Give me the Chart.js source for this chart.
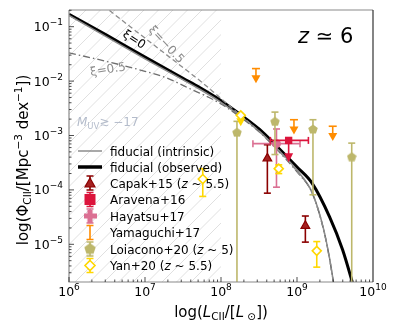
<!DOCTYPE html>
<html>
<head>
<meta charset="utf-8">
<script src="https://cdn.jsdelivr.net/npm/chart.js@4.4.1/dist/chart.umd.min.js"></script>
<style>
  html, body { margin: 0; padding: 0; background: #fff; }
  canvas { display: block; }
</style>
</head>
<body>
<canvas id="chart" width="399" height="332"></canvas>
<script>
// ---- model curves (log10 L_CII, log10 Phi) ----
const obsLogL = [6.0, 6.5, 7.0, 7.5, 7.72, 8.0, 8.25, 8.5, 8.75, 9.0, 9.2, 9.43, 9.6, 9.76];
const obsLogPhi = [-0.77, -1.16, -1.56, -1.95, -2.12, -2.36, -2.61, -2.88, -3.22, -3.58, -3.88, -4.5, -5.1, -5.85];

const intrLogL = [6.0, 7.0, 7.72, 8.0, 8.25, 8.5, 8.75, 9.0, 9.2, 9.35, 9.43, 9.5];
const intrLogPhi = [-0.79, -1.59, -2.15, -2.39, -2.64, -2.92, -3.26, -3.64, -4.05, -4.72, -5.27, -5.88];

const xiNegLogL = [6.45, 6.75, 7.0, 7.25, 7.5, 7.72, 7.9, 8.1, 8.3, 8.5, 8.75, 9.0, 9.2, 9.35, 9.43, 9.5];
const xiNegLogPhi = [-0.61, -0.94, -1.21, -1.48, -1.75, -1.99, -2.2, -2.44, -2.68, -2.92, -3.27, -3.66, -4.06, -4.73, -5.28, -5.88];

const xiPosLogL = [6.0, 6.5, 7.0, 7.3, 7.59, 7.72, 8.0, 8.25, 8.5, 8.75, 9.0, 9.2, 9.35, 9.43, 9.5];
const xiPosLogPhi = [-1.48, -1.64, -1.82, -1.95, -2.14, -2.22, -2.42, -2.66, -2.93, -3.28, -3.67, -4.06, -4.73, -5.28, -5.88];

// ---- observations ----
const capakLogL = [8.61, 9.11];
const capakLogPhi = [-3.42, -4.66];
const capakLogPhiHi = [-3.17, -4.48];
const capakLogPhiLo = [-4.06, -4.96];

const aravenaLogL = [8.89];
const aravenaLogPhi = [-3.09];
const aravenaLogLLo = [8.65];
const aravenaLogLHi = [9.15];
const aravenaLimitLogPhi = [-3.49];

const hayatsuLogL = [8.73];
const hayatsuLogPhi = [-3.15];
const hayatsuLogPhiHi = [-2.88];
const hayatsuLogPhiLo = [-3.95];
const hayatsuLogLLo = [8.42];
const hayatsuLogLHi = [9.04];

const yamaguchiLogL = [8.46, 8.96, 9.47];
const yamaguchiLogPhiMax = [-1.77, -2.71, -2.83];

const loiaconoLogL = [8.21, 8.71, 9.21, 9.72];
const loiaconoLogPhi = [-2.94, -2.74, -2.88, -3.39];
const loiaconoLogPhiHi = [-2.74, -2.57, -2.71, -3.14];
const loiaconoLogPhiLo = [-7, -3.35, -4.09, -7];

const yanLogL = [7.76, 8.26, 8.76, 9.26];
const yanLogPhi = [-3.80, -2.63, -3.61, -5.12];
const yanLogPhiHi = [-3.61, -2.63, -3.54, -4.95];
const yanLogPhiLo = [-4.12, -2.63, -3.70, -5.42];
const yanIsLimit = [false, true, false, false];

// ---- axes ----
const xTickExp = [6, 7, 8, 9, 10];
const yTickExp = [-5, -4, -3, -2, -1];
const xMinExp = 6, xMaxExp = 10;
const yMinExp = -5.693, yMaxExp = -0.693;
const hatchMaxExp = 8.0;

const colors = {
  capak: '#8B0000', aravena: '#DC143C', hayatsu: '#DB7093',
  yamaguchi: '#FF8C00', loiacono: '#BDB76B', yan: '#FFD700'
};

const toXY = (lx, ly) => lx.map((v, i) => ({ x: Math.pow(10, v), y: Math.pow(10, ly[i]) }));

function makeShape(kind, size, fill) {
  const c = document.createElement('canvas');
  c.width = c.height = size;
  const g = c.getContext('2d');
  const r = size / 2;
  g.beginPath();
  if (kind === 'pentagon') {
    for (let i = 0; i < 5; i++) {
      const a = -Math.PI / 2 + i * 2 * Math.PI / 5;
      g.lineTo(r + r * Math.cos(a), r + 0.5 + r * Math.sin(a));
    }
  } else {
    const t = size * 0.2;
    const pts = [[r - t, 0], [r + t, 0], [r + t, r - t], [size, r - t], [size, r + t], [r + t, r + t],
      [r + t, size], [r - t, size], [r - t, r + t], [0, r + t], [0, r - t], [r - t, r - t]];
    pts.forEach(p => g.lineTo(p[0], p[1]));
  }
  g.closePath();
  g.fillStyle = fill;
  g.fill();
  return c;
}
const pentagon = makeShape('pentagon', 10, colors.loiacono);
const pentagonBig = makeShape('pentagon', 12, colors.loiacono);
const plusBig = makeShape('plus', 13, colors.hayatsu);

// error bars drawn just before each marker dataset
const errorInfo = {
  'Capak+15': { color: colors.capak, L: capakLogL, hi: capakLogPhiHi, lo: capakLogPhiLo },
  'Aravena+16': { color: colors.aravena, L: aravenaLogL, y: aravenaLogPhi, lLo: aravenaLogLLo, lHi: aravenaLogLHi, arrowTo: aravenaLimitLogPhi },
  'Hayatsu+17': { color: colors.hayatsu, L: hayatsuLogL, y: hayatsuLogPhi, hi: hayatsuLogPhiHi, lo: hayatsuLogPhiLo, lLo: hayatsuLogLLo, lHi: hayatsuLogLHi },
  'Yamaguchi+17': { color: colors.yamaguchi, L: yamaguchiLogL, limit: yamaguchiLogPhiMax },
  'Loiacono+20': { color: colors.loiacono, L: loiaconoLogL, hi: loiaconoLogPhiHi, lo: loiaconoLogPhiLo },
  'Yan+20': { color: colors.yan, L: yanLogL, hi: yanLogPhiHi, lo: yanLogPhiLo, y: yanLogPhi, isLimit: yanIsLimit }
};

function downTriangle(ctx, x, yTip, w, h, color) {
  ctx.beginPath();
  ctx.moveTo(x - w / 2, yTip - h);
  ctx.lineTo(x + w / 2, yTip - h);
  ctx.lineTo(x, yTip);
  ctx.closePath();
  ctx.fillStyle = color;
  ctx.fill();
}

function richText(ctx, x, y, parts, align) {
  let w = 0;
  parts.forEach(p => { ctx.font = p.f; w += ctx.measureText(p.t).width; });
  let cx = align === 'center' ? x - w / 2 : (align === 'right' ? x - w : x);
  parts.forEach(p => {
    ctx.font = p.f;
    ctx.fillText(p.t, cx, y + (p.dy || 0));
    cx += ctx.measureText(p.t).width;
  });
}

const F = 'DejaVu Sans, sans-serif';

const errorPlugin = {
  id: 'errorbars',
  beforeDatasetDraw(chart, args) {
    const info = errorInfo[chart.data.datasets[args.index].label];
    if (!info) return;
    const xs = chart.scales.x, ys = chart.scales.y, a = chart.chartArea;
    const px = v => xs.getPixelForValue(Math.pow(10, v));
    const py = v => ys.getPixelForValue(Math.pow(10, v));
    const ctx = chart.ctx;
    ctx.save();
    ctx.beginPath();
    ctx.rect(a.left, a.top, a.right - a.left, a.bottom - a.top);
    ctx.clip();
    ctx.strokeStyle = info.color;
    ctx.lineWidth = 1.6;
    const cap = 3.5;
    const line = (x1, y1, x2, y2) => { ctx.beginPath(); ctx.moveTo(x1, y1); ctx.lineTo(x2, y2); ctx.stroke(); };
    info.L.forEach((l, i) => {
      const x = px(l);
      if (info.limit) {
        const y0 = py(info.limit[i]);
        const tip = py(info.limit[i] - 0.27);
        line(x - cap - 0.5, y0, x + cap + 0.5, y0);
        line(x, y0, x, tip - 4);
        downTriangle(ctx, x, tip, 9, 8, info.color);
        return;
      }
      if (info.isLimit && info.isLimit[i]) {
        const y0 = py(info.y[i]);
        const tip = py(info.y[i] - 0.2);
        line(x, y0, x, tip - 3);
        downTriangle(ctx, x, tip, 9, 8, info.color);
        return;
      }
      if (info.hi) {
        const yh = py(info.hi[i]), yl = py(info.lo[i]);
        line(x, yh, x, yl);
        line(x - cap, yh, x + cap, yh);
        line(x - cap, yl, x + cap, yl);
      }
      if (info.lLo) {
        const y = py(info.y[i]);
        const x1 = px(info.lLo[i]), x2 = px(info.lHi[i]);
        line(x1, y, x2, y);
        line(x1, y - cap, x1, y + cap);
        line(x2, y - cap, x2, y + cap);
      }
      if (info.arrowTo) {
        const y0 = py(info.y[i]);
        const tip = py(info.arrowTo[i]);
        line(x, y0, x, tip - 5);
        downTriangle(ctx, x, tip, 9, 9, info.color);
      }
    });
    ctx.restore();
  }
};

const framePlugin = {
  id: 'frame',
  beforeDatasetsDraw(chart) {
    // hatched M_UV region
    const ctx = chart.ctx, a = chart.chartArea;
    const xr = chart.scales.x.getPixelForValue(Math.pow(10, hatchMaxExp));
    ctx.save();
    ctx.beginPath();
    ctx.rect(a.left, a.top, xr - a.left, a.bottom - a.top);
    ctx.clip();
    ctx.strokeStyle = '#dcdcdc';
    ctx.lineWidth = 0.9;
    for (let x0 = a.left - 400; x0 < xr + 10; x0 += 14.5) {
      ctx.beginPath();
      ctx.moveTo(x0, a.bottom);
      ctx.lineTo(x0 + (a.bottom - a.top), a.top);
      ctx.stroke();
    }
    ctx.restore();
  },
  afterDraw(chart) {
    const ctx = chart.ctx, a = chart.chartArea;
    const xs = chart.scales.x, ys = chart.scales.y;
    ctx.save();
    // spines
    ctx.lineWidth = 1.2;
    ctx.strokeStyle = '#8a8a8a';
    ctx.beginPath();
    ctx.moveTo(a.left, a.top); ctx.lineTo(a.left, a.bottom); ctx.lineTo(a.right, a.bottom);
    ctx.moveTo(a.left, a.top); ctx.lineTo(a.right, a.top);
    ctx.stroke();
    ctx.strokeStyle = '#333';
    ctx.beginPath(); ctx.moveTo(a.right, a.top); ctx.lineTo(a.right, a.bottom); ctx.stroke();

    // inward ticks
    ctx.strokeStyle = '#222';
    ctx.lineWidth = 0.8;
    for (let e = xMinExp; e < xMaxExp; e++) {
      for (let m = 1; m < 10; m++) {
        const x = xs.getPixelForValue(m * Math.pow(10, e));
        const len = m === 1 ? 5 : 2.5;
        ctx.beginPath(); ctx.moveTo(x, a.bottom); ctx.lineTo(x, a.bottom - len); ctx.stroke();
      }
    }
    for (let e = -6; e < 0; e++) {
      for (let m = 1; m < 10; m++) {
        const v = m * Math.pow(10, e);
        if (v < Math.pow(10, yMinExp) || v > Math.pow(10, yMaxExp)) continue;
        const y = ys.getPixelForValue(v);
        const len = m === 1 ? 5 : 2.5;
        ctx.beginPath(); ctx.moveTo(a.left, y); ctx.lineTo(a.left + len, y); ctx.stroke();
      }
    }

    // tick labels
    ctx.fillStyle = '#000';
    ctx.textBaseline = 'alphabetic';
    xTickExp.forEach(e => {
      const x = xs.getPixelForValue(Math.pow(10, e));
      richText(ctx, x, 296, [{ t: '10', f: `12.5px ${F}` }, { t: String(e), f: `9px ${F}`, dy: -6 }], 'center');
    });
    yTickExp.forEach(e => {
      const y = ys.getPixelForValue(Math.pow(10, e));
      richText(ctx, 63, y + 4.5, [{ t: '10', f: `12.5px ${F}` }, { t: '\u2212' + Math.abs(e), f: `9px ${F}`, dy: -6 }], 'right');
    });

    // axis titles
    richText(ctx, 221, 317, [
      { t: 'log(', f: `15px ${F}` }, { t: 'L', f: `italic 15px ${F}` },
      { t: 'CII', f: `10.5px ${F}`, dy: 3 }, { t: '/[', f: `15px ${F}` },
      { t: 'L', f: `italic 15px ${F}` }, { t: ' \u2299', f: `10.5px ${F}`, dy: 3 },
      { t: '])', f: `15px ${F}` }
    ], 'center');
    ctx.save();
    ctx.translate(28, 160);
    ctx.rotate(-Math.PI / 2);
    richText(ctx, 0, 0, [
      { t: 'log(\u03A6', f: `15px ${F}` }, { t: 'CII', f: `10.5px ${F}`, dy: 3 },
      { t: '/[Mpc', f: `15px ${F}` }, { t: '\u22123', f: `10.5px ${F}`, dy: -6 },
      { t: ' dex', f: `15px ${F}` }, { t: '\u22121', f: `10.5px ${F}`, dy: -6 },
      { t: '])', f: `15px ${F}` }
    ], 'center');
    ctx.restore();
    ctx.restore();
  },
  afterDatasetsDraw(chart) {
    const ctx = chart.ctx;
    ctx.save();
    ctx.fillStyle = '#000';
    // redshift label
    richText(ctx, 298, 43, [{ t: 'z', f: `italic 21px ${F}` }, { t: ' \u2243 6', f: `21px ${F}` }], 'left');

    // curve labels
    const rot = (x, y, deg, color, parts) => {
      ctx.save(); ctx.translate(x, y); ctx.rotate(deg * Math.PI / 180);
      ctx.fillStyle = color; ctx.textBaseline = 'middle';
      richText(ctx, 0, 0, parts, 'center');
      ctx.restore();
    };
    rot(134, 40, 33, '#000', [{ t: '\u03BE=0', f: `12px ${F}` }]);
    rot(166, 45, 47, '#8c8c8c', [{ t: '\u03BE=\u22120.5', f: `12px ${F}` }]);
    rot(108, 70, -9, '#8c8c8c', [{ t: '\u03BE=0.5', f: `12px ${F}` }]);
    ctx.fillStyle = '#b4bccb';
    richText(ctx, 77, 126, [{ t: 'M', f: `italic 12px ${F}` }, { t: 'UV', f: `8.5px ${F}`, dy: 2.5 },
      { t: '\u2273 \u221217', f: `12px ${F}` }], 'left');

    // legend
    const hx = 90, tx = 110, rowY = [151, 167, 183, 199.5, 216, 232.5, 249, 265.5];
    const bar = (y, color) => {
      ctx.strokeStyle = color; ctx.lineWidth = 1.6;
      ctx.beginPath();
      ctx.moveTo(hx, y - 7); ctx.lineTo(hx, y + 7);
      ctx.moveTo(hx - 3.5, y - 7); ctx.lineTo(hx + 3.5, y - 7);
      ctx.moveTo(hx - 3.5, y + 7); ctx.lineTo(hx + 3.5, y + 7);
      ctx.stroke();
    };
    ctx.lineCap = 'butt';
    ctx.strokeStyle = '#8c8c8c'; ctx.lineWidth = 1.5;
    ctx.beginPath(); ctx.moveTo(78, rowY[0]); ctx.lineTo(102, rowY[0]); ctx.stroke();
    ctx.strokeStyle = '#000'; ctx.lineWidth = 3.5;
    ctx.beginPath(); ctx.moveTo(78, rowY[1]); ctx.lineTo(102, rowY[1]); ctx.stroke();

    bar(rowY[2], colors.capak);
    ctx.beginPath(); ctx.moveTo(hx, rowY[2] - 5); ctx.lineTo(hx + 5, rowY[2] + 4); ctx.lineTo(hx - 5, rowY[2] + 4); ctx.closePath();
    ctx.fillStyle = '#a52020'; ctx.fill(); ctx.strokeStyle = colors.capak; ctx.lineWidth = 1.2; ctx.stroke();

    bar(rowY[3], colors.aravena);
    ctx.fillStyle = colors.aravena; ctx.fillRect(hx - 5.5, rowY[3] - 5.5, 11, 11);

    bar(rowY[4], colors.hayatsu);
    ctx.drawImage(plusBig, hx - 6.5, rowY[4] - 6.5);

    bar(rowY[5], colors.yamaguchi);

    bar(rowY[6], colors.loiacono);
    ctx.drawImage(pentagonBig, hx - 6, rowY[6] - 6.5);

    bar(rowY[7], colors.yan);
    ctx.beginPath(); ctx.moveTo(hx, rowY[7] - 5); ctx.lineTo(hx + 5, rowY[7]); ctx.lineTo(hx, rowY[7] + 5); ctx.lineTo(hx - 5, rowY[7]); ctx.closePath();
    ctx.fillStyle = '#fff'; ctx.fill(); ctx.strokeStyle = colors.yan; ctx.lineWidth = 1.6; ctx.stroke();

    ctx.fillStyle = '#000';
    const lf = `12px ${F}`, li = `italic 12px ${F}`;
    const labels = [
      [{ t: 'fiducial (intrinsic)', f: lf }],
      [{ t: 'fiducial (observed)', f: lf }],
      [{ t: 'Capak+15 (', f: lf }, { t: 'z', f: li }, { t: ' ~ 5.5)', f: lf }],
      [{ t: 'Aravena+16', f: lf }],
      [{ t: 'Hayatsu+17', f: lf }],
      [{ t: 'Yamaguchi+17', f: lf }],
      [{ t: 'Loiacono+20 (', f: lf }, { t: 'z', f: li }, { t: ' ~ 5)', f: lf }],
      [{ t: 'Yan+20 (', f: lf }, { t: 'z', f: li }, { t: ' ~ 5.5)', f: lf }]
    ];
    labels.forEach((p, i) => richText(ctx, tx, rowY[i] + 4.5, p, 'left'));
    ctx.restore();
  }
};

const curve = (label, lx, ly, color, width, dash) => ({
  type: 'line', label, data: toXY(lx, ly), borderColor: color, borderWidth: width,
  borderDash: dash, pointRadius: 0, fill: false, cubicInterpolationMode: 'monotone', order: 5
});

const chart = new Chart(document.getElementById('chart'), {
  type: 'scatter',
  data: {
    datasets: [
      curve('xi=-0.5', xiNegLogL, xiNegLogPhi, '#8c8c8c', 1.3, [5, 3]),
      curve('xi=0.5', xiPosLogL, xiPosLogPhi, '#6e6e6e', 1.3, [7, 3, 1.5, 3]),
      curve('fiducial (intrinsic)', intrLogL, intrLogPhi, '#8c8c8c', 1.5, []),
      curve('fiducial (observed)', obsLogL, obsLogPhi, '#000', 3, []),
      { label: 'Yan+20', data: toXY(yanLogL, yanLogPhi), pointStyle: 'rectRot', pointRadius: 4.5,
        backgroundColor: '#fff', borderColor: colors.yan, borderWidth: 1.6, order: 0 },
      { label: 'Loiacono+20', data: toXY(loiaconoLogL, loiaconoLogPhi), pointStyle: pentagon,
        backgroundColor: colors.loiacono, borderColor: colors.loiacono, order: 1 },
      { label: 'Yamaguchi+17', data: [], order: 2 },
      { label: 'Hayatsu+17', data: toXY(hayatsuLogL, hayatsuLogPhi), pointStyle: 'circle', pointRadius: 4.5,
        backgroundColor: colors.hayatsu, borderColor: colors.hayatsu, borderWidth: 0, order: 3 },
      { label: 'Aravena+16', data: toXY(aravenaLogL, aravenaLogPhi), pointStyle: 'rect', pointRadius: 5.2,
        backgroundColor: colors.aravena, borderColor: colors.aravena, borderWidth: 0, order: 2.5 },
      { label: 'Capak+15', data: toXY(capakLogL, capakLogPhi), pointStyle: 'triangle', pointRadius: 5,
        backgroundColor: '#a52020', borderColor: colors.capak, borderWidth: 1.2, order: 4 }
    ]
  },
  options: {
    responsive: false,
    animation: false,
    devicePixelRatio: 1,
    events: [],
    layout: { padding: { left: 69, right: 26, top: 10, bottom: 50 } },
    plugins: { legend: { display: false }, tooltip: { enabled: false } },
    scales: {
      x: { type: 'logarithmic', display: false, min: Math.pow(10, xMinExp), max: Math.pow(10, xMaxExp) },
      y: { type: 'logarithmic', display: false, min: Math.pow(10, yMinExp), max: Math.pow(10, yMaxExp) }
    }
  },
  plugins: [framePlugin, errorPlugin]
});
</script>
</body>
</html>
